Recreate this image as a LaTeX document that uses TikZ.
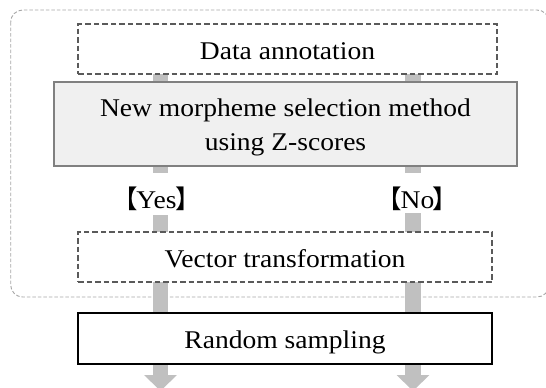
\documentclass[tikz,border=0pt]{standalone}
\usepackage{fontspec}
\setmainfont[FakeStretch=1.08]{Liberation Serif}
\newfontfamily\cjkfont{Noto Sans CJK JP}
\usetikzlibrary{arrows.meta}
\definecolor{arrowgray}{HTML}{C0C0C0}
\definecolor{boxfill}{HTML}{F0F0F0}
\definecolor{boxborder}{HTML}{808080}
\definecolor{dashborder}{HTML}{5A5A5A}
\definecolor{outerborder}{HTML}{A6A6A6}
\pgfdeclarelayer{bg}
\pgfsetlayers{bg,main}
\newcommand\openbr{{\cjkfont 【}\kern-1.5pt}
\newcommand\closebr{\kern-1.5pt{\cjkfont 】}}
\tikzset{
  box/.style={inner sep=0pt, outer sep=0pt, font=\fontsize{25.5pt}{34pt}\selectfont},
  onebox/.style={box, text height=20.6pt, text depth=0pt},
  dashbox/.style={onebox, draw=dashborder, line width=1.4pt, dash pattern=on 5.5pt off 3pt, fill=white},
  graybox/.style={box, draw=boxborder, line width=1.5pt, fill=boxfill, align=center},
  solidbox/.style={onebox, draw=black, line width=1.8pt, fill=white},
  outerbox/.style={draw=outerborder, line width=0.9pt, dash pattern=on 3.5pt off 2pt, rounded corners=12pt},
  flow/.style={draw=arrowgray, line width=15.5pt},
  flowtip/.style={flow, -{Triangle[width=32pt,length=16pt]}, arrowgray},
  answer/.style={inner sep=0pt, outer sep=0pt, font=\fontsize{25.5pt}{30pt}\selectfont,
    text height=23pt, text depth=3pt},
}
\begin{document}
\begin{tikzpicture}[x=1pt,y=-1pt]
\useasboundingbox (0,0) rectangle (546,388);
\clip (0,0) rectangle (546,388);
% column positions
\coordinate (L) at (160.5,0);
\coordinate (R) at (413,0);
% nodes
\node[dashbox, minimum width=419pt, minimum height=50pt] (data) at (287.5,49) {Data annotation};
\node[graybox, minimum width=463pt, minimum height=84pt] (method) at (285.5,124) {\rule{0pt}{25pt}New morpheme selection method\\using Z-scores};
\node[answer, anchor=base] (yes) at (156.5,208) {\openbr Yes\closebr};
\node[answer, anchor=base] (no) at (417.5,208) {\openbr No\closebr};
\node[dashbox, minimum width=414pt, minimum height=50pt] (vector) at (285,257) {Vector transformation};
\node[solidbox, minimum width=414pt, minimum height=51pt] (random) at (285,338.5) {Random sampling};
\coordinate (Lend) at (160.5,391);
\coordinate (Rend) at (413,391);
% frame and flows, under the boxes
\begin{pgfonlayer}{bg}
\draw[outerbox] (10.7,10) rectangle (549,297);
\draw[flow] (data.south -| L) -- (method.north -| L);
\draw[flow] (data.south -| R) -- (method.north -| R);
\draw[flow, shorten >=12pt] (method.south -| L) -- (yes.north -| L);
\draw[flow, shorten >=12pt] (method.south -| R) -- (no.north -| R);
\draw[flow, shorten <=4pt] (yes.south -| L) -- (vector.north -| L);
\draw[flow, shorten <=2pt] (no.south -| R) -- (vector.north -| R);
\draw[flow] (vector.south -| L) -- (random.north -| L);
\draw[flow] (vector.south -| R) -- (random.north -| R);
\draw[flowtip] (random.south -| L) -- (Lend);
\draw[flowtip] (random.south -| R) -- (Rend);
\end{pgfonlayer}
\end{tikzpicture}
\end{document}
